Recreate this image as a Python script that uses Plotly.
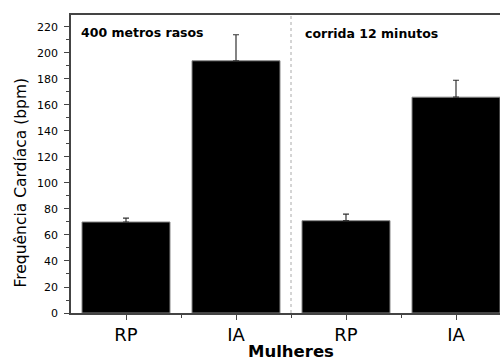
import plotly.graph_objects as go

# Data
categories = ["RP", "IA", "RP", "IA"]
positions = [0, 1, 2, 3]
values = [70, 194, 71, 166]
errors = [3, 20, 5, 13]
group_labels = ["400 metros rasos", "corrida 12 minutos"]
y_ticks = list(range(0, 221, 20))
x_title = "Mulheres"
y_title = "Frequência Cardíaca (bpm)"

FONT = "DejaVu Sans"
AX = "#444444"

fig = go.Figure()
fig.add_trace(go.Bar(
    x=positions, y=values, width=0.8,
    marker=dict(color="black", line=dict(color="#888888", width=1)),
    error_y=dict(type="data", array=errors, arrayminus=[0]*len(errors), symmetric=False,
                 color="#333333", thickness=1.2, width=3),
))

fig.update_layout(
    width=500, height=362,
    margin=dict(l=71, r=0, t=15, b=49),
    plot_bgcolor="white", paper_bgcolor="white",
    showlegend=False,
    font=dict(family=FONT, color="black"),
)
fig.update_xaxes(
    range=[-0.5, 3.4], tickmode="array", tickvals=positions, ticktext=categories,
    ticks="outside", ticklen=5, tickwidth=1.2, tickcolor=AX,
    tickfont=dict(size=18, family=FONT, color="black"),
    showline=True, linecolor=AX, linewidth=1.5, mirror=True,
    showgrid=False, zeroline=False,
    minor=dict(tickmode="array", tickvals=[0.5, 1.5, 2.5], ticks="outside", ticklen=3, tickcolor=AX, tickwidth=1),
)
fig.update_yaxes(
    range=[0, 229.2], tickmode="array", tickvals=y_ticks,
    ticks="outside", ticklen=5, tickwidth=1.2, tickcolor=AX,
    tickfont=dict(size=11, family=FONT, color="black"),
    ticklabelstandoff=4,
    showline=True, linecolor=AX, linewidth=1.5,
    showgrid=False, zeroline=False,
    minor=dict(dtick=10, tick0=0, ticks="outside", ticklen=3, tickcolor=AX, tickwidth=1),
)

fig.add_shape(type="line", xref="x", yref="paper", x0=1.5, x1=1.5, y0=0, y1=1,
              line=dict(color="#aaaaaa", width=1, dash="dot"))

fig.add_annotation(text="<b>%s</b>" % group_labels[0], xref="x", yref="y", x=-0.43, y=215.8,
                   xanchor="left", yanchor="middle", showarrow=False,
                   font=dict(size=12.5, family=FONT, color="black"))
fig.add_annotation(text="<b>%s</b>" % group_labels[1], xref="x", yref="y", x=1.61, y=215.0,
                   xanchor="left", yanchor="middle", showarrow=False,
                   font=dict(size=12.5, family=FONT, color="black"))
fig.add_annotation(text="<b>%s</b>" % x_title, xref="x", yref="paper", x=1.5, y=-0.128,
                   xanchor="center", yanchor="middle", showarrow=False,
                   font=dict(size=16.5, family=FONT, color="black"))
fig.add_annotation(text=y_title, xref="paper", yref="y", x=-0.1177, y=100,
                   xanchor="center", yanchor="middle", textangle=-90, showarrow=False,
                   font=dict(size=15.5, family=FONT, color="black"))

fig.write_html("out.html")
